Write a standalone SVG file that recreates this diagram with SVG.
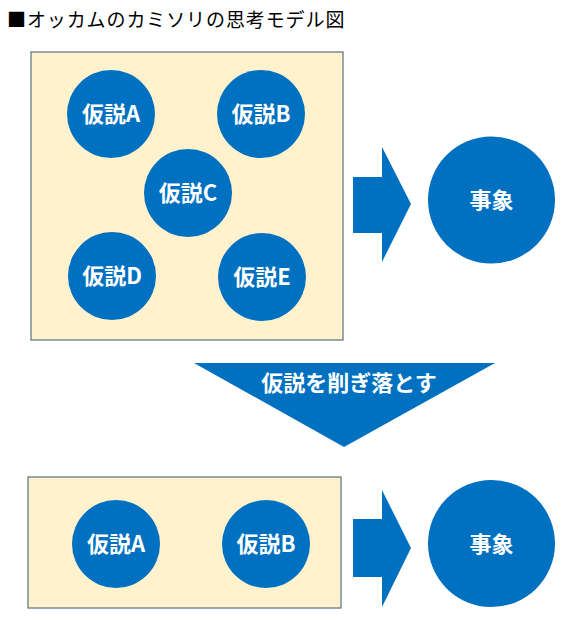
<svg xmlns="http://www.w3.org/2000/svg" width="581" height="620" viewBox="0 0 581 620">
<style>
.bg{fill:#FFFFFF}
.box{fill:#FFF2CC;stroke:#5A7080;stroke-width:1.2}
.c{fill:#0070C0}
.shape{fill:#0070C0}
.lbl{font-family:"Noto Sans CJK JP","Noto Sans",sans-serif;font-weight:bold;font-size:22px;fill:#FFFFFF;text-anchor:middle}
.title{font-family:"Noto Sans CJK JP","Noto Sans",sans-serif;font-size:19px;letter-spacing:0.9px;fill:#000000}
</style>
<rect class="bg" x="0" y="0" width="581" height="620"/>
<text class="title" x="7" y="27">■オッカムのカミソリの思考モデル図</text>

<g id="box-top"><rect class="box" x="31" y="52" width="312" height="288"/></g>
<g id="hyp-a-top"><circle class="c" cx="111" cy="114" r="44"/><text class="lbl" x="111" y="122">仮説A</text></g>
<g id="hyp-b-top"><circle class="c" cx="261" cy="114" r="44"/><text class="lbl" x="261" y="122">仮説B</text></g>
<g id="hyp-c-top"><circle class="c" cx="188" cy="193" r="44"/><text class="lbl" x="188" y="201">仮説C</text></g>
<g id="hyp-d-top"><circle class="c" cx="112" cy="276" r="44"/><text class="lbl" x="112" y="284">仮説D</text></g>
<g id="hyp-e-top"><circle class="c" cx="262" cy="277" r="44"/><text class="lbl" x="262" y="285">仮説E</text></g>
<g id="event-top"><circle class="c" cx="491.5" cy="200" r="63.5"/><text class="lbl" x="491.5" y="208">事象</text></g>

<g id="cut"><polygon class="shape" points="194,363 495,363 344,447"/><text class="lbl" x="349" y="391">仮説を削ぎ落とす</text></g>

<g id="box-bottom"><rect class="box" x="28" y="477" width="313" height="131"/></g>
<g id="hyp-a-bottom"><circle class="c" cx="116" cy="544" r="44"/><text class="lbl" x="116" y="552">仮説A</text></g>
<g id="hyp-b-bottom"><circle class="c" cx="266" cy="544" r="44"/><text class="lbl" x="266" y="552">仮説B</text></g>
<g id="event-bottom"><circle class="c" cx="491.5" cy="543.5" r="63.5"/><text class="lbl" x="491.5" y="551.5">事象</text></g>

<g id="connectors">
<polygon class="shape" points="353,177 382,177 382,147 411,204 382,262 382,233 353,233"/>
<polygon class="shape" points="353,519 382,519 382,490 411,548 382,607 382,577 353,577"/>
</g>
</svg>
